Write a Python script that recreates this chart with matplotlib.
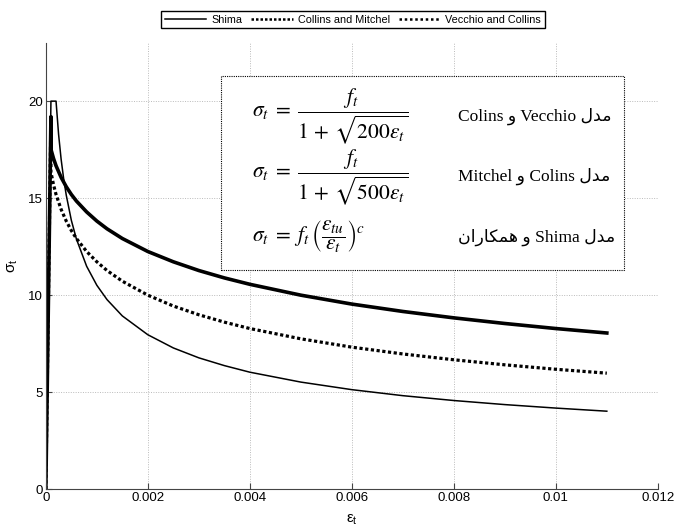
import matplotlib
matplotlib.use("Agg")
import matplotlib.pyplot as plt
from matplotlib.lines import Line2D
from matplotlib.patches import Rectangle

# strain / stress values
shima_eps = [0, 0.0001, 0.0002, 0.00025, 0.0003, 0.00035, 0.0004, 0.0005, 0.0006,
             0.0008, 0.001, 0.0012, 0.0015, 0.002, 0.0025, 0.003, 0.0035, 0.004,
             0.005, 0.006, 0.007, 0.008, 0.009, 0.01, 0.011]
shima_sig = [0, 20, 20, 18.29, 17.0, 15.99, 15.16, 13.86, 12.89,
             11.49, 10.51, 9.77, 8.93, 7.96, 7.28, 6.77, 6.37, 6.03,
             5.52, 5.13, 4.82, 4.57, 4.36, 4.18, 4.02]

collins_eps = [0, 0.0001, 0.0001, 0.00015, 0.0002, 0.0003, 0.0004, 0.0005, 0.0006,
               0.0008, 0.001, 0.0012, 0.0015, 0.002, 0.0025, 0.003, 0.0035, 0.004,
               0.005, 0.006, 0.007, 0.008, 0.009, 0.01, 0.011]
mitchel_sig = [0, 19.2, 16.34, 15.70, 15.19, 14.42, 13.82, 13.33, 12.92,
               12.25, 11.72, 11.27, 10.72, 10.0, 9.44, 8.99, 8.61, 8.28,
               7.75, 7.32, 6.97, 6.67, 6.41, 6.18, 5.98]
vecchio_sig = [0, 19.2, 17.52, 17.05, 16.67, 16.07, 15.59, 15.19, 14.85,
               14.29, 13.82, 13.42, 12.92, 12.25, 11.72, 11.27, 10.89, 10.56,
               10.0, 9.54, 9.16, 8.83, 8.54, 8.28, 8.05]

legend_labels = ["Shima", "Collins and Mitchel", "Vecchio and Collins"]
xticks = [0, 0.002, 0.004, 0.006, 0.008, 0.01, 0.012]
xtick_labels = ["0", "0.002", "0.004", "0.006", "0.008", "0.01", "0.012"]
yticks = [0, 5, 10, 15, 20]

formulas = [r"$\sigma_t\;=\;\dfrac{f_t}{1\,+\,\sqrt{200\varepsilon_t}}$",
            r"$\sigma_t\;=\;\dfrac{f_t}{1\,+\,\sqrt{500\varepsilon_t}}$",
            r"$\sigma_t\;=\;f_t\,\left(\dfrac{\varepsilon_{tu}}{\varepsilon_t}\right)^c$"]
# Persian labels, written in visual (left-to-right) order with shaped forms
labels_fa = ["Colins \uFEED Vecchio \uFEDD\uFEAA\uFEE3",
             "Mitchel \uFEED Colins \uFEDD\uFEAA\uFEE3",
             "\uFEE5\uFE8D\uFEAD\uFE8E\uFB91\uFEE4\uFEEB \uFEED Shima \uFEDD\uFEAA\uFEE3"]

plt.rcParams["font.family"] = ["Liberation Sans", "DejaVu Sans"]
plt.rcParams["mathtext.fontset"] = "stix"

fig = plt.figure(figsize=(6.74, 5.30), dpi=100)
ax = fig.add_axes([0.068, 0.077, 0.908, 0.842])

ax.plot(shima_eps, shima_sig, color="black", lw=1.1)
ax.plot(collins_eps, mitchel_sig, color="black", lw=2.3, linestyle=(0, (1.0, 0.8)))
ax.plot(collins_eps, vecchio_sig, color="black", lw=2.6)

ax.set_xlim(0, 0.012)
ax.set_ylim(0, 23)
ax.set_xticks(xticks)
ax.set_xticklabels(xtick_labels)
ax.set_yticks(yticks)
ax.tick_params(direction="in", length=4, labelsize=9.5, color="#444444", pad=2)
for s in ["top", "right"]:
    ax.spines[s].set_visible(False)
for s in ["left", "bottom"]:
    ax.spines[s].set_color("#444444")
ax.grid(True, linestyle=(0, (1, 1.5)), color="#bbbbbb", lw=0.7)
ax.set_axisbelow(True)

ax.set_xlabel(r"$\mathregular{\epsilon_t}$", fontsize=11, labelpad=6)
ax.set_ylabel(r"$\mathregular{\sigma_t}$", fontsize=11, labelpad=6)

# formula box
row_y = [19.2, 16.1, 13.0]
fa_texts = []
for f, t, y in zip(formulas, labels_fa, row_y):
    ax.text(0.00405, y, f, fontsize=15.5, va="center", ha="left", zorder=5)
    fa_texts.append(ax.text(0.00809, y, t, fontsize=12.5, va="center", ha="left",
                            zorder=5, family=["Liberation Serif", "DejaVu Sans"]))

fig.canvas.draw()
renderer = fig.canvas.get_renderer()
right_px = max(t.get_window_extent(renderer).x1 for t in fa_texts) + 8
box_right = ax.transData.inverted().transform((right_px, 0))[0]
box = Rectangle((0.00344, 11.3), box_right - 0.00344, 21.3 - 11.3, facecolor="white",
                edgecolor="black", lw=0.8, linestyle=(0, (1, 1)), zorder=4)
ax.add_patch(box)

handles = [Line2D([], [], color="black", lw=1.1),
           Line2D([], [], color="black", lw=1.8, linestyle=(0, (1, 0.8))),
           Line2D([], [], color="black", lw=1.8, linestyle=(0, (1, 1.1)))]
fig.legend(handles, legend_labels, loc="center", bbox_to_anchor=(0.524, 0.963),
           ncol=3, fontsize=7.8, frameon=True, fancybox=False, edgecolor="black",
           handlelength=3.8, handletextpad=0.5, columnspacing=0.8,
           borderpad=0.35, framealpha=1)

fig.savefig("out.png", dpi=100)
